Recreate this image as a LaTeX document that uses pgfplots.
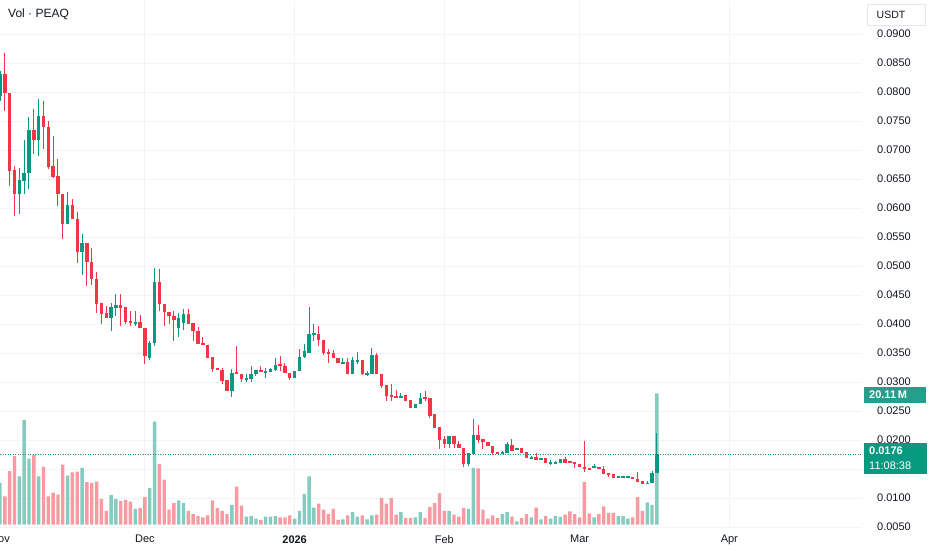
\documentclass[border=0pt]{standalone}
\usepackage{pgfplots}
\pgfplotsset{compat=1.18}
\usepackage{pgfplotstable}
\usepackage{fontspec}
\setmainfont{Liberation Sans}
\definecolor{tvgreen}{HTML}{089981}
\definecolor{tvred}{HTML}{F23645}
\definecolor{volgreen}{HTML}{84CCC0}
\definecolor{volred}{HTML}{F89AA2}
\definecolor{tvtext}{HTML}{131722}
\definecolor{tvgrid}{HTML}{F0F3FA}
\definecolor{vollabel}{HTML}{22A08C}
\definecolor{boxline}{HTML}{E6E8EE}

% down (red) candles: day open high low close volume(M)
\pgfplotstableread{
d o h l c v
1 0.08310 0.08672 0.07672 0.07983 4.3
2 0.07983 0.07983 0.06379 0.06638 8.2
3 0.06655 0.06724 0.05862 0.06241 10.5
7 0.07345 0.07707 0.06931 0.07172 10.7
9 0.07586 0.07845 0.07017 0.07397 8.9
10 0.07397 0.07500 0.06672 0.06707 4.3
11 0.06724 0.07241 0.06517 0.06535 4.9
12 0.06552 0.06845 0.06035 0.06241 4.6
13 0.06241 0.06241 0.05466 0.05724 9.2
15 0.06052 0.06155 0.05810 0.05810 8.0
16 0.05810 0.05931 0.05052 0.05241 8.1
18 0.05397 0.05397 0.04655 0.05069 6.5
19 0.05069 0.05310 0.04672 0.04776 6.4
20 0.04776 0.04897 0.04190 0.04345 6.6
21 0.04362 0.04362 0.04000 0.04172 3.9
22 0.04190 0.04310 0.04103 0.04103 2.1
25 0.04328 0.04517 0.03966 0.04276 3.6
26 0.04293 0.04293 0.04000 0.04035 3.8
27 0.04052 0.04224 0.03966 0.04017 3.5
29 0.04035 0.04155 0.03931 0.03931 2.5
30 0.03931 0.03931 0.03310 0.03448 4.2
33 0.04724 0.04948 0.04224 0.04345 9.3
34 0.04345 0.04345 0.03966 0.04207 6.9
35 0.04207 0.04207 0.04000 0.04138 2.3
36 0.04138 0.04224 0.03707 0.04069 3.3
39 0.04172 0.04259 0.04000 0.04000 2.1
40 0.04017 0.04017 0.03707 0.03879 1.6
41 0.03879 0.03948 0.03655 0.03655 1.3
42 0.03672 0.03776 0.03638 0.03638 1.1
43 0.03638 0.03638 0.03414 0.03414 1.4
44 0.03431 0.03431 0.03172 0.03224 3.7
45 0.03241 0.03241 0.03207 0.03207 2.5
46 0.03207 0.03241 0.02966 0.03017 2.1
47 0.03034 0.03034 0.02845 0.02845 1.6
49 0.03172 0.03621 0.03138 0.03138 5.8
50 0.03138 0.03138 0.03000 0.03052 2.9
54 0.03207 0.03276 0.03172 0.03172 0.7
58 0.03310 0.03448 0.03190 0.03276 1.1
59 0.03276 0.03328 0.03155 0.03155 1.1
60 0.03155 0.03155 0.03034 0.03069 1.4
66 0.03828 0.03966 0.03621 0.03724 3.2
67 0.03724 0.03724 0.03466 0.03500 2.3
68 0.03517 0.03569 0.03328 0.03483 1.6
69 0.03500 0.03552 0.03414 0.03414 2.4
70 0.03414 0.03414 0.03328 0.03328 0.7
72 0.03345 0.03414 0.03138 0.03138 1.4
75 0.03379 0.03379 0.03121 0.03138 1.4
78 0.03466 0.03500 0.03138 0.03138 1.5
79 0.03138 0.03138 0.02897 0.02931 4.1
80 0.02948 0.02948 0.02672 0.02759 3.2
81 0.02776 0.02966 0.02672 0.02741 4.1
82 0.02759 0.02862 0.02724 0.02724 1.5
84 0.02776 0.02776 0.02672 0.02672 1.0
85 0.02690 0.02690 0.02552 0.02552 1.0
88 0.02741 0.02845 0.02672 0.02724 1.0
89 0.02724 0.02724 0.02379 0.02414 2.7
90 0.02448 0.02448 0.02207 0.02207 3.3
91 0.02224 0.02224 0.01845 0.02000 4.8
92 0.02017 0.02069 0.01862 0.01931 2.1
94 0.02069 0.02069 0.01862 0.01931 1.5
95 0.01931 0.01983 0.01862 0.01862 1.2
96 0.01862 0.01862 0.01534 0.01586 2.5
99 0.02086 0.02259 0.01948 0.02000 8.6
100 0.02017 0.02017 0.01845 0.01966 2.3
101 0.01966 0.01966 0.01897 0.01897 0.9
102 0.01897 0.01897 0.01741 0.01776 1.4
103 0.01793 0.01793 0.01776 0.01776 1.0
106 0.01914 0.02017 0.01810 0.01810 1.2
108 0.01862 0.01862 0.01776 0.01776 1.0
109 0.01793 0.01793 0.01690 0.01690 1.6
111 0.01707 0.01776 0.01655 0.01655 2.6
113 0.01690 0.01690 0.01603 0.01603 1.3
117 0.01672 0.01707 0.01603 0.01603 1.5
118 0.01638 0.01638 0.01603 0.01603 2.0
119 0.01621 0.01621 0.01517 0.01586 1.6
120 0.01586 0.01586 0.01534 0.01534 1.1
121 0.01534 0.01983 0.01448 0.01517 6.5
122 0.01517 0.01517 0.01500 0.01500 1.7
124 0.01534 0.01534 0.01500 0.01500 1.6
125 0.01500 0.01552 0.01414 0.01414 2.8
126 0.01431 0.01431 0.01362 0.01414 1.8
127 0.01414 0.01414 0.01345 0.01345 1.8
131 0.01362 0.01362 0.01328 0.01328 1.1
132 0.01328 0.01448 0.01276 0.01276 4.2
133 0.01293 0.01293 0.01241 0.01241 2.1
}\dn

% up (green) candles
\pgfplotstableread{
d o h l c v
0 0.07931 0.08362 0.07845 0.08310 6.4
4 0.06241 0.06690 0.05897 0.06483 7.4
5 0.06466 0.07172 0.06241 0.06603 16.0
6 0.06603 0.07569 0.06328 0.07345 10.1
8 0.07172 0.07879 0.06897 0.07586 7.4
14 0.05724 0.06276 0.05724 0.06052 7.5
17 0.05241 0.05552 0.04845 0.05397 8.7
23 0.04103 0.04362 0.03879 0.04293 4.5
24 0.04276 0.04517 0.04138 0.04328 3.9
28 0.04017 0.04224 0.03966 0.04035 2.4
31 0.03414 0.03707 0.03379 0.03672 5.6
32 0.03672 0.04966 0.03621 0.04724 15.8
37 0.03931 0.04190 0.03776 0.04103 3.7
38 0.04017 0.04259 0.03897 0.04172 3.3
48 0.02845 0.03224 0.02741 0.03155 3.0
51 0.03052 0.03138 0.03000 0.03069 1.2
52 0.03052 0.03276 0.03000 0.03138 1.3
53 0.03138 0.03207 0.03103 0.03207 0.9
55 0.03172 0.03241 0.03069 0.03190 1.2
56 0.03172 0.03241 0.03172 0.03224 1.2
57 0.03207 0.03414 0.03190 0.03293 1.3
61 0.03069 0.03190 0.03069 0.03190 0.9
62 0.03190 0.03569 0.03190 0.03431 2.1
63 0.03431 0.03655 0.03414 0.03534 4.7
64 0.03500 0.04293 0.03500 0.03828 7.4
65 0.03828 0.04000 0.03707 0.03840 2.6
71 0.03310 0.03414 0.03310 0.03345 0.8
73 0.03138 0.03431 0.03138 0.03379 1.9
74 0.03362 0.03517 0.03310 0.03379 1.2
76 0.03138 0.03190 0.03103 0.03155 0.8
77 0.03138 0.03586 0.03138 0.03466 1.4
83 0.02724 0.02810 0.02724 0.02759 1.9
86 0.02552 0.02621 0.02552 0.02621 1.1
87 0.02621 0.02810 0.02621 0.02724 1.9
93 0.01931 0.02069 0.01862 0.02069 2.1
97 0.01586 0.01776 0.01552 0.01776 2.4
98 0.01759 0.02362 0.01759 0.02086 8.7
104 0.01776 0.01810 0.01759 0.01793 1.6
105 0.01776 0.01966 0.01776 0.01931 1.9
107 0.01828 0.01862 0.01828 0.01862 0.5
110 0.01690 0.01724 0.01672 0.01707 1.1
112 0.01655 0.01690 0.01655 0.01690 0.8
114 0.01603 0.01655 0.01569 0.01621 0.9
115 0.01603 0.01638 0.01603 0.01621 1.3
116 0.01603 0.01672 0.01603 0.01672 1.2
123 0.01517 0.01586 0.01517 0.01552 1.1
128 0.01362 0.01379 0.01345 0.01370 1.3
129 0.01362 0.01379 0.01345 0.01370 1.3
130 0.01362 0.01379 0.01345 0.01370 0.9
134 0.01250 0.01293 0.01241 0.01259 3.4
135 0.01259 0.01466 0.01259 0.01431 3.0
136 0.01431 0.02121 0.01431 0.01760 20.11
}\up

\pgfplotsset{
  candle/.style={mark=none, draw=none, forget plot,
    error bars/.cd, y dir=both, y explicit, error mark=none},
  pane/.style={at={(0,36)}, anchor=south west, width=862pt, height=528pt,
    scale only axis, xmin=0, xmax=178.47},
}

\begin{document}
\begin{tikzpicture}[x=1pt,y=1pt]
\useasboundingbox (0,0) rectangle (932,550);
\fill[white] (0,0) rectangle (932,550);

% ---- grid (background) ----
\begin{axis}[pane, ymin=0.00466, ymax=0.09569, hide axis]
\pgfplotsinvokeforeach{0.005,0.010,0.015,0.020,0.025,0.030,0.035,0.040,0.045,0.050,0.055,0.060,0.065,0.070,0.075,0.080,0.085,0.090}{
  \addplot[tvgrid, line width=1pt, forget plot] coordinates {(0,#1) (178.47,#1)};
}
\pgfplotsinvokeforeach{30,61,92,120,151}{
  \addplot[tvgrid, line width=1pt, forget plot] coordinates {(#1,0.00466) (#1,0.09569)};
}
\end{axis}

% ---- volume pane ----
\begin{axis}[pane, ymin=-0.31, ymax=80.7, hide axis]
\addplot[ybar, bar width=3.4pt, bar shift=0pt, fill=volred, draw=none] table[x=d,y=v]{\dn};
\addplot[ybar, bar width=3.4pt, bar shift=0pt, fill=volgreen, draw=none] table[x=d,y=v]{\up};
\end{axis}

% ---- price pane ----
\begin{axis}[pane, ymin=0.00466, ymax=0.09569,
  axis line style={draw=none}, major tick length=0pt,
  xtick={0,30,61,92,120,151},
  xticklabels={Nov,Dec,\textbf{2026},Feb,Mar,Apr},
  ytick={0.005,0.010,0.020,0.025,0.030,0.035,0.040,0.045,0.050,0.055,0.060,0.065,0.070,0.075,0.080,0.085,0.090},
  yticklabel pos=right,
  /pgf/number format/assume math mode=true,
  ticklabel style={font=\fontsize{11}{13}\selectfont, text=tvtext},
  yticklabel style={anchor=west, inner sep=0pt, xshift=15pt,
     /pgf/number format/.cd, fixed, fixed zerofill, precision=4, /tikz/.cd},
  xticklabel style={anchor=north, inner sep=0pt, yshift=-6pt},
  scaled y ticks=false,
]
% current price line
\addplot[tvgreen, line width=0.7pt, dash pattern=on 0.7pt off 1.8pt, forget plot] coordinates {(0,0.0176) (178.47,0.0176)};
% wicks
\addplot[candle, error bar style={draw=tvred, line width=1pt}]
  table[x=d, y expr={(\thisrow{h}+\thisrow{l})/2}, y error expr={(\thisrow{h}-\thisrow{l})/2}]{\dn};
\addplot[candle, error bar style={draw=tvgreen, line width=1pt}]
  table[x=d, y expr={(\thisrow{h}+\thisrow{l})/2}, y error expr={(\thisrow{h}-\thisrow{l})/2}]{\up};
% bodies
\addplot[candle, error bar style={draw=tvred, line width=3.4pt}]
  table[x=d, y expr={(\thisrow{o}+\thisrow{c})/2}, y error expr={max(abs(\thisrow{o}-\thisrow{c})/2,0.00009)}]{\dn};
\addplot[candle, error bar style={draw=tvgreen, line width=3.4pt}]
  table[x=d, y expr={(\thisrow{o}+\thisrow{c})/2}, y error expr={max(abs(\thisrow{o}-\thisrow{c})/2,0.00009)}]{\up};
\end{axis}

% ---- annotations ----
\node[anchor=west, inner sep=0pt, font=\fontsize{12}{14}\selectfont, text=tvtext] at (8,536) {Vol · PEAQ};
\draw[boxline, fill=white] (867,525) rectangle (925,546);
\node[inner sep=0pt, font=\fontsize{10.5}{12}\selectfont, text=tvtext] at (891,535.5) {USDT};
\fill[vollabel] (864,147) rectangle (926,163);
\node[anchor=west, inner sep=0pt, font=\fontsize{11}{13}\selectfont\bfseries, text=white] at (869,155) {20.11\,M};
\fill[tvgreen] (864,76) rectangle (927,107);
\node[anchor=west, inner sep=0pt, font=\fontsize{11}{13}\selectfont\bfseries, text=white] at (869,99) {0.0176};
\node[anchor=west, inner sep=0pt, font=\fontsize{11}{13}\selectfont, text=white] at (869,84) {11:08:38};
\end{tikzpicture}
\end{document}
